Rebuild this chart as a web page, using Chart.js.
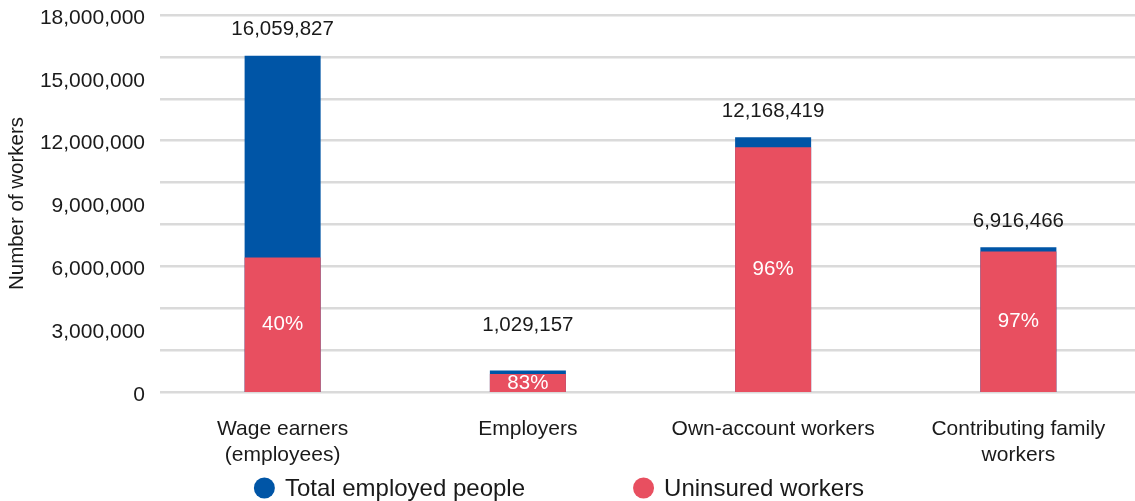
<!DOCTYPE html>
<html>
<head>
<meta charset="utf-8">
<script src="https://cdn.jsdelivr.net/npm/chart.js@4"></script>
<style>
  html, body { margin: 0; padding: 0; overflow: hidden; background: #fff; }
  #wrap { width: 1141px; height: 501px; position: relative; }
</style>
</head>
<body>
<div id="wrap"><canvas id="workersChart"></canvas></div>
<script>
/*chart data*/
const categories = [
  ['Wage earners', '(employees)'],
  'Employers',
  'Own-account workers',
  ['Contributing family', 'workers']
];
const totalEmployed = [16059827, 1029157, 12168419, 6916466];
const uninsuredWorkers = [6423931, 854200, 11681682, 6708972];
const yTickValues = [0, 3000000, 6000000, 9000000, 12000000, 15000000, 18000000];

const BLUE = '#0055a6';
const RED = '#e84f60';
const TEXT = '#1a1a1a';
const FONT = "'Liberation Sans', Arial, sans-serif";

Chart.defaults.font.family = FONT;
Chart.defaults.color = TEXT;

const fmt = v => String(v).replace(/\B(?=(\d{3})+(?!\d))/g, ',');

/*value labels: totals above the bars, shares inside the red bars*/
const barLabels = {
  id: 'barLabels',
  afterDatasetsDraw(chart) {
    const ctx = chart.ctx;
    const totalMeta = chart.getDatasetMeta(0);
    const uninsMeta = chart.getDatasetMeta(1);
    ctx.save();
    ctx.textAlign = 'center';
    ctx.textBaseline = 'middle';
    ctx.font = '20.5px ' + FONT;
    totalMeta.data.forEach((bar, i) => {
      ctx.fillStyle = TEXT;
      const y = Math.min(bar.y - 26, bar.base - 67);
      ctx.fillText(fmt(totalEmployed[i]), bar.x, y);
    });
    uninsMeta.data.forEach((bar, i) => {
      ctx.fillStyle = '#fff';
      const pct = Math.round(uninsuredWorkers[i] / totalEmployed[i] * 100);
      ctx.fillText(pct + '%', bar.x, (bar.y + bar.base) / 2);
    });
    ctx.restore();
  }
};

/*legend with round markers, spaced wide apart*/
const dotLegend = {
  id: 'dotLegend',
  afterDraw(chart) {
    const ctx = chart.ctx;
    const r = 10.5, gap = 10, spacing = 108, cy = 488, cx = 559;
    ctx.save();
    ctx.font = '24px ' + FONT;
    ctx.textBaseline = 'middle';
    ctx.textAlign = 'left';
    const items = chart.data.datasets.map(ds => ({
      text: ds.label, color: ds.backgroundColor,
      w: r * 2 + gap + ctx.measureText(ds.label).width
    }));
    const full = items.reduce((s, it) => s + it.w, 0) + spacing * (items.length - 1);
    let x = cx - full / 2;
    items.forEach(it => {
      ctx.fillStyle = it.color;
      ctx.beginPath();
      ctx.arc(x + r, cy, r, 0, Math.PI * 2);
      ctx.fill();
      ctx.fillStyle = TEXT;
      ctx.fillText(it.text, x + r * 2 + gap, cy + 1);
      x += it.w + spacing;
    });
    ctx.restore();
  }
};

const data = {
  labels: categories,
  datasets: [{
    label: 'Total employed people',
    data: totalEmployed,
    backgroundColor: BLUE,
    order: 1
  }, {
    label: 'Uninsured workers',
    data: uninsuredWorkers,
    backgroundColor: RED,
    order: 0
  }]
};

const config = {
  type: 'bar',
  data: data,
  options: {
    responsive: true,
    maintainAspectRatio: false,
    animation: false,
    grouped: false,
    categoryPercentage: 1,
    barPercentage: 0.31,
    layout: { padding: { top: 15, bottom: 29, left: 0, right: 0 } },
    plugins: {
      legend: { display: false },
      tooltip: { enabled: false }
    },
    scales: {
      x: {
        grid: { display: false, drawTicks: false },
        border: { display: false },
        ticks: { font: { size: 21, lineHeight: 1.2 }, padding: 25, color: TEXT, maxRotation: 0 },
        afterFit(scale) { scale.height = 80; }
      },
      y: {
        min: 0,
        max: 18000000,
        grid: { display: false, drawTicks: false },
        border: { display: false },
        afterBuildTicks(scale) { scale.ticks = yTickValues.map(v => ({ value: v })); },
        ticks: {
          font: { size: 21 },
          padding: 15,
          labelOffset: 3,
          color: TEXT,
          callback: v => fmt(v)
        },
        title: {
          display: true,
          text: 'Number of workers',
          font: { size: 20.5 },
          padding: { top: 5, bottom: 0 },
          color: TEXT
        },
        afterFit(scale) {
          // fixed gutter; the tick padding should not push the plot down
          scale.width = 160;
          scale.paddingTop = 0;
          scale.paddingBottom = 0;
        }
      },
      // horizontal rules on their own evenly spaced scale
      rules: {
        position: 'left',
        min: 0,
        max: 9,
        ticks: { display: false, stepSize: 1 },
        border: { display: false },
        grid: { color: '#dadada', lineWidth: 2.5, drawTicks: false },
        afterFit(scale) { scale.width = 0; }
      }
    }
  },
  plugins: [barLabels, dotLegend]
};

const workersChart = new Chart(document.getElementById('workersChart'), config);
</script>
</body>
</html>
